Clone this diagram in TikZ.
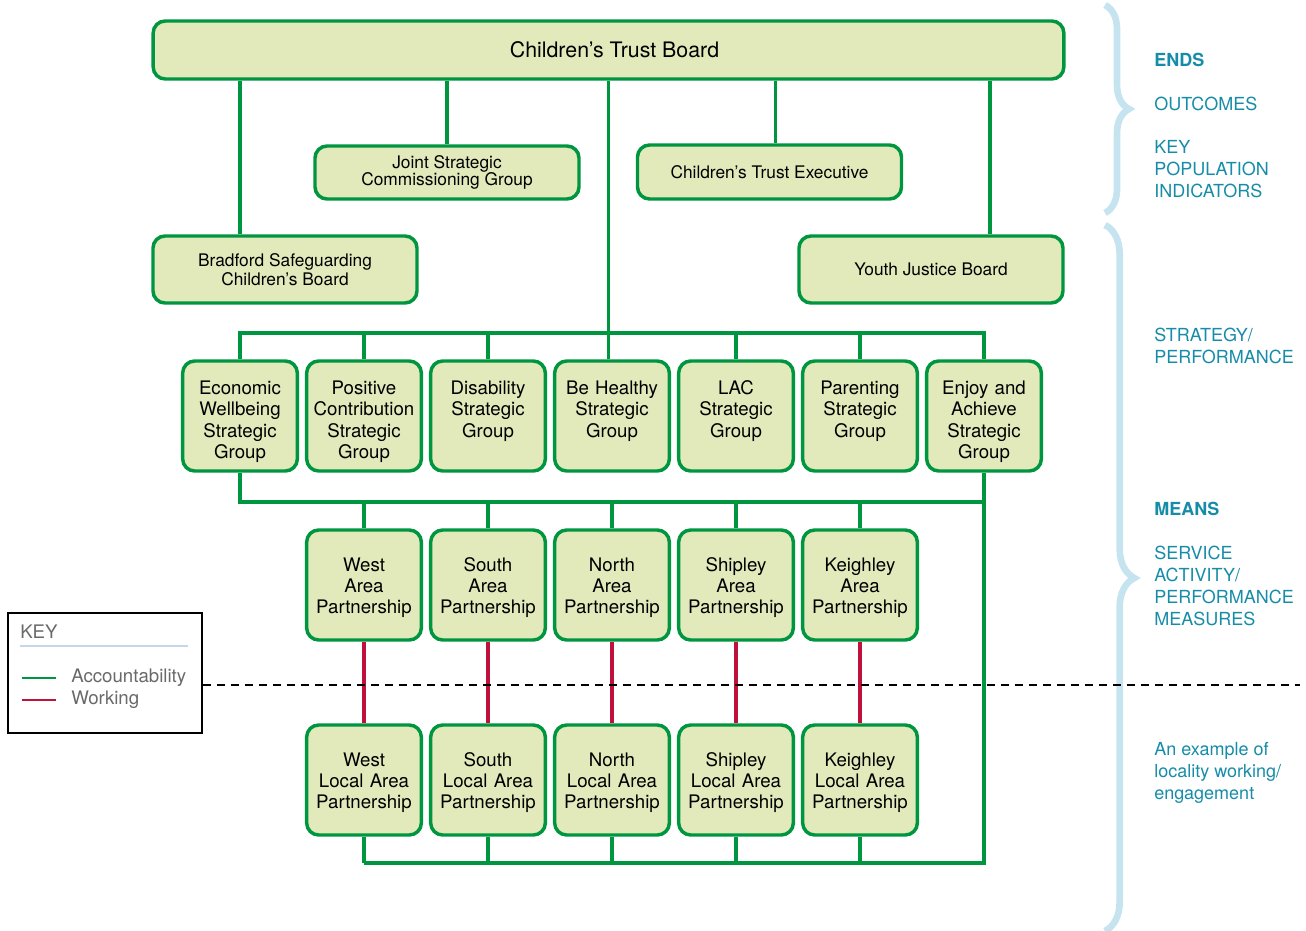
\documentclass[tikz,border=0pt]{standalone}
\usepackage{fontspec}
\setmainfont{TeX Gyre Heros}
\usetikzlibrary{positioning,decorations.pathreplacing}

\definecolor{ctgreen}{RGB}{0,150,64}
\definecolor{ctfill}{RGB}{226,233,187}
\definecolor{ctred}{RGB}{190,18,60}
\definecolor{ctteal}{RGB}{22,140,168}
\definecolor{ctbrace}{RGB}{198,228,240}
\definecolor{keygrey}{RGB}{105,105,105}
\definecolor{keyrule}{RGB}{200,214,234}

\begin{document}
\begin{tikzpicture}[
    x=0.75pt, y=-0.75pt,
    node distance=93pt,
    box/.style={
        rectangle,
        draw=ctgreen,
        fill=ctfill,
        line width=2.6pt,
        rounded corners=9pt,
        align=center,
        inner sep=3pt
    },
    board/.style={
        box,
        minimum width=683pt,
        minimum height=43.5pt,
        font=\fontsize{16}{18}\selectfont
    },
    panel/.style={
        box,
        minimum width=198pt,
        font=\fontsize{13}{13}\selectfont
    },
    group/.style={
        box,
        text width=80pt,
        minimum height=82.5pt,
        font=\fontsize{14}{16}\selectfont,
        execute at begin node={\rule{0pt}{14.5pt}}
    },
    tallgroup/.style={
        group,
        execute at begin node={\rule{0pt}{19pt}}
    },
    account/.style={
        draw=ctgreen,
        line width=2.6pt
    },
    working/.style={
        draw=ctred,
        line width=2.6pt
    },
    side/.style={
        anchor=west,
        align=left,
        inner sep=0pt,
        text=ctteal,
        font=\fontsize{13.5}{16.5}\selectfont
    },
    sidebold/.style={
        side,
        font=\fontsize{13.5}{16.5}\selectfont\bfseries
    },
    bracket/.style={
        draw=ctbrace,
        line width=5pt,
        decorate,
        decoration={brace, amplitude=#1}
    },
    keytext/.style={
        anchor=west,
        inner sep=0pt,
        text=keygrey,
        font=\fontsize{14}{16}\selectfont
    }
]
\useasboundingbox (0,0) rectangle (1306,931);

% Braces
\draw [bracket=18pt] (1105,5) -- (1105,213);
\draw [bracket=22pt] (1105,225) -- (1105,931);

% Top level
\node [board] (board) at (608.5,50) {\hspace*{9pt}Children’s Trust Board};
\node [panel, minimum height=39.75pt] (joint) at (447,172.5) {Joint Strategic\\Commissioning Group};
\node [panel, minimum height=40.5pt] (exec) at (769.5,172) {Children’s Trust Executive};
\node [panel, minimum height=50.25pt, font=\fontsize{13}{14.25}\selectfont] (bradford) at (285,269.5) {Bradford Safeguarding\\Children’s Board};
\node [panel, minimum height=50.25pt] (youth) at (931,269.5) {Youth Justice Board};

% Strategic groups
\node [tallgroup] (econ) at (240,416) {Economic\\Wellbeing\\Strategic\\Group};
\node [tallgroup, right of=econ] (positive) {Positive\\Contribution\\Strategic\\Group};
\node [tallgroup, right of=positive] (disability) {Disability\\Strategic\\Group\\\mbox{\vphantom{p}}};
\node [tallgroup, right of=disability] (healthy) {Be Healthy\\Strategic\\Group\\\mbox{\vphantom{p}}};
\node [tallgroup, right of=healthy] (lac) {LAC\\Strategic\\Group\\\mbox{\vphantom{p}}};
\node [tallgroup, right of=lac] (parenting) {Parenting\\Strategic\\Group\\\mbox{\vphantom{p}}};
\node [tallgroup, right of=parenting] (enjoy) {Enjoy and\\Achieve\\Strategic\\Group};

% Area partnerships
\node [group] (westarea) at (364,585) {West\\Area\\Partnership};
\node [group, right of=westarea] (southarea) {South\\Area\\Partnership};
\node [group, right of=southarea] (northarea) {North\\Area\\Partnership};
\node [group, right of=northarea] (shipleyarea) {Shipley\\Area\\Partnership};
\node [group, right of=shipleyarea] (keighleyarea) {Keighley\\Area\\Partnership};

% Local area partnerships
\node [group, below of=westarea, node distance=146.25pt] (westlocal) {West\\Local Area\\Partnership};
\node [group, right of=westlocal] (southlocal) {South\\Local Area\\Partnership};
\node [group, right of=southlocal] (northlocal) {North\\Local Area\\Partnership};
\node [group, right of=northlocal] (shipleylocal) {Shipley\\Local Area\\Partnership};
\node [group, right of=shipleylocal] (keighleylocal) {Keighley\\Local Area\\Partnership};

% Bus levels
\coordinate (upperbus) at (0,333);
\coordinate (lowerbus) at (0,502);
\coordinate (basebus) at (0,863);

% Connectors
\draw [account] (board.south -| econ.north) -- (bradford.north -| econ.north);
\draw [account] (joint.north) -- (joint.north |- board.south);
\draw [account] ([xshift=4.5pt]exec.north) -- ([xshift=4.5pt]exec.north |- board.south);
\draw [account] ([xshift=44.25pt]youth.north) -- ([xshift=44.25pt]youth.north |- board.south);
\draw [account] (board.south) -- (board.south |- healthy.north);
\draw [account] (econ.north) -- (econ.north |- upperbus) -- (enjoy.north |- upperbus) -- (enjoy.north);
\foreach \g in {positive,disability,lac,parenting}
    \draw [account] (\g.north) -- (\g.north |- upperbus);
\draw [account] (econ.south) -- (econ.south |- lowerbus) -- (enjoy.south |- lowerbus);
\draw [account] (enjoy.south) -- (enjoy.south |- basebus) -- (westlocal.south |- basebus);
\foreach \a/\l in {westarea/westlocal,southarea/southlocal,northarea/northlocal,shipleyarea/shipleylocal,keighleyarea/keighleylocal} {
    \draw [account] (\a.north) -- (\a.north |- lowerbus);
    \draw [working] (\a.south) -- (\l.north);
    \draw [account] (\l.south) -- (\l.south |- basebus);
}

% Key
\node [draw, line width=1.5pt, minimum width=145.5pt, minimum height=90pt, inner sep=0pt] (keybox) at (105,673) {};
\node [keytext] (keytitle) at (20,632) {KEY};
\draw [keyrule, line width=2pt] (20,646) -- (188,646);
\node [keytext] (acclabel) at (71,678) {Accountability};
\node [keytext] (worklabel) at (71,700) {Working};
\draw [account, line width=2pt] ([xshift=-11.25pt]acclabel.west) -- ++(-25.5pt,0);
\draw [working, line width=2pt] ([xshift=-11.25pt]worklabel.west) -- ++(-25.5pt,0);

% Divider
\coordinate (dashend) at (1300,685);
\draw [black, line width=1.1pt, dash pattern=on 6pt off 4.5pt] (dashend -| keybox.east) -- (dashend);

% Side labels
\node [sidebold] (ends) at (1154,60) {ENDS};
\node [side] (outcomes) at (1154,104) {OUTCOMES};
\node [side] (indicators) at (1154,169) {KEY\\POPULATION\\INDICATORS};
\node [side] (strategy) at (1154,346) {STRATEGY/\\PERFORMANCE};
\node [sidebold] (means) at (1154,509) {MEANS};
\node [side] (service) at (1154,586) {SERVICE\\ACTIVITY/\\PERFORMANCE\\MEASURES};
\node [side] (locality) at (1154,773) {An example of\\locality working/\\engagement};

\end{tikzpicture}
\end{document}
